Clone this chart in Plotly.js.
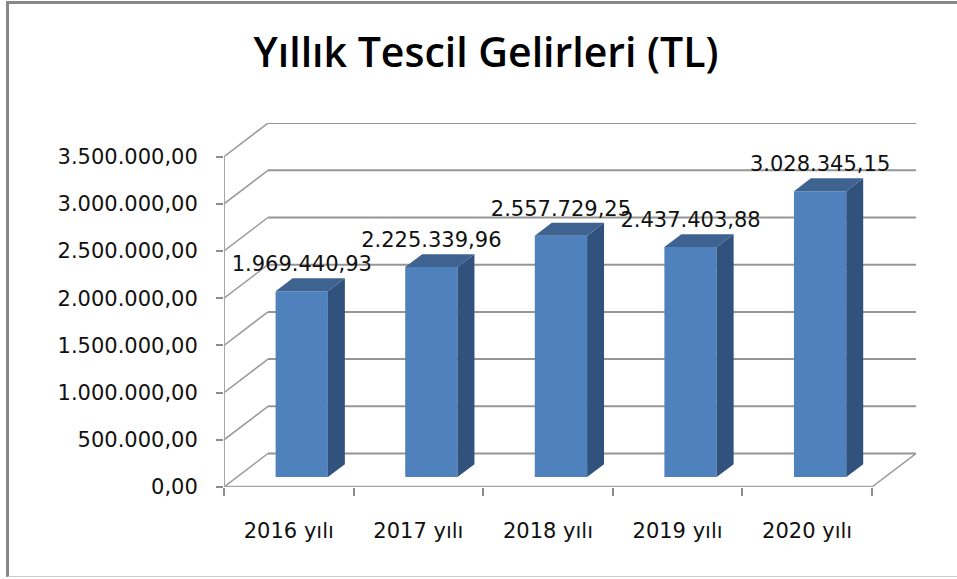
<!DOCTYPE html>
<html>
<head>
<meta charset="utf-8">
<script src="https://cdn.plot.ly/plotly-3.0.1.min.js"></script>
<style>
html,body{margin:0;padding:0;background:#fff;overflow:hidden}
#chart{position:absolute;left:0;top:0;width:957px;height:579px}
#frame{position:absolute;left:6px;top:1px;width:951px;height:576px;box-sizing:border-box;border-left:3px solid #888;border-top:3px solid #888;border-bottom:1px solid #ccc;pointer-events:none}
</style>
</head>
<body>
<div id="chart"></div>
<div id="frame"></div>
<script>
// ---- data ----
const categories = ['2016 yılı','2017 yılı','2018 yılı','2019 yılı','2020 yılı'];
const values = [1969440.93, 2225339.96, 2557729.25, 2437403.88, 3028345.15];
const valueLabels = ['1.969.440,93','2.225.339,96','2.557.729,25','2.437.403,88','3.028.345,15'];
const yTicks = [0,500000,1000000,1500000,2000000,2500000,3000000,3500000];
const yTickLabels = ['0,00','500.000,00','1.000.000,00','1.500.000,00','2.000.000,00','2.500.000,00','3.000.000,00','3.500.000,00'];

// ---- oblique projection of the 3-D look (depth z runs 0..1, front to back) ----
const depthX = 0.3395, depthY = 354900;
const barFrontZ = 0.295, barBackZ = 0.68, barWidth = 0.4036, labelLift = 268000;
const px = (c, z) => c + depthX * z;
const py = (v, z) => v + depthY * z;
const nCat = categories.length;
const centers = categories.map((_, i) => i + 0.5);

const gridColor = '#969696', axisColor = '#a6a6a6';
const shapes = [];
const line = (x0, y0, x1, y1, color, width) => shapes.push({type:'line', layer:'below', xref:'x', yref:'y', x0, y0, x1, y1, line:{color, width}});
yTicks.forEach(v => {
  line(px(0,0), py(v,0), px(0,1), py(v,1), '#9a9a9a', 1.5);
  line(px(0,1), py(v,1), px(nCat,1), py(v,1), gridColor, 2);
});
line(px(nCat,0), py(0,0), px(nCat,1), py(0,1), '#9a9a9a', 1.5);
line(0, 0, 0, yTicks[yTicks.length-1], axisColor, 2);
line(0, 0, nCat, 0, axisColor, 2.5);

const front = {
  type:'bar', x:centers.map(c => px(c, barFrontZ)), y:values,
  base:values.map(() => py(0, barFrontZ)), width:barWidth,
  marker:{color:'#4f81bd', line:{width:0}}, hoverinfo:'skip', showlegend:false
};
function poly(pts, color){
  return {type:'scatter', mode:'lines', x:pts.map(p => p[0]), y:pts.map(p => p[1]),
    fill:'toself', fillcolor:color, line:{width:0, color}, hoverinfo:'skip', showlegend:false};
}
const sides = [], tops = [];
centers.forEach((c, i) => {
  const l = c - barWidth/2, r = c + barWidth/2, v = values[i];
  sides.push(poly([[px(r,barFrontZ),py(0,barFrontZ)],[px(r,barBackZ),py(0,barBackZ)],[px(r,barBackZ),py(v,barBackZ)],[px(r,barFrontZ),py(v,barFrontZ)],[px(r,barFrontZ),py(0,barFrontZ)]], '#31527c'));
  tops.push(poly([[px(l,barFrontZ),py(v,barFrontZ)],[px(r,barFrontZ),py(v,barFrontZ)],[px(r,barBackZ),py(v,barBackZ)],[px(l,barBackZ),py(v,barBackZ)],[px(l,barFrontZ),py(v,barFrontZ)]], '#3e6390'));
});
const labels = {
  type:'scatter', mode:'text', x:centers.map(c => px(c, barFrontZ)), y:values.map(v => py(v, barFrontZ) + labelLift),
  text:valueLabels, textposition:'middle center',
  textfont:{family:'"DejaVu Sans", sans-serif', size:21, color:'#111'}, cliponaxis:false,
  hoverinfo:'skip', showlegend:false
};

const font = {family:'"DejaVu Sans", sans-serif', size:21, color:'#111'};
const layout = {
  width:957, height:579, margin:{l:224, r:41, t:123, b:92, pad:0},
  paper_bgcolor:'rgba(0,0,0,0)', plot_bgcolor:'rgba(0,0,0,0)', showlegend:false,
  title:{text:'Yıllık Tescil Gelirleri (TL)', x:486/957, xanchor:'center', y:1-53/579, yanchor:'middle',
    font:{family:'"Open Sans", sans-serif', size:41, color:'#000', weight:600}},
  xaxis:{range:[0, 5.34], showgrid:false, zeroline:false, showline:false, fixedrange:true,
    tickmode:'array', tickvals:centers, ticktext:categories, ticks:'outside', ticklen:8, tickcolor:'rgba(0,0,0,0)', tickfont:font, ticklabelstandoff:17,
    minor:{tickmode:'array', tickvals:categories.map((_, i) => i).concat([nCat]), ticks:'outside', ticklen:8, tickwidth:2, tickcolor:'#8c8c8c', showgrid:false}},
  yaxis:{range:[0, 3856000], showgrid:false, zeroline:false, showline:false, fixedrange:true,
    tickmode:'array', tickvals:yTicks, ticktext:yTickLabels, ticks:'outside', ticklen:7, tickwidth:2, tickcolor:'#8c8c8c', tickfont:font, ticklabelstandoff:14},
  shapes
};
Plotly.newPlot('chart', [front, ...sides, ...tops, labels], layout, {displayModeBar:false, staticPlot:true});
</script>
</body>
</html>
